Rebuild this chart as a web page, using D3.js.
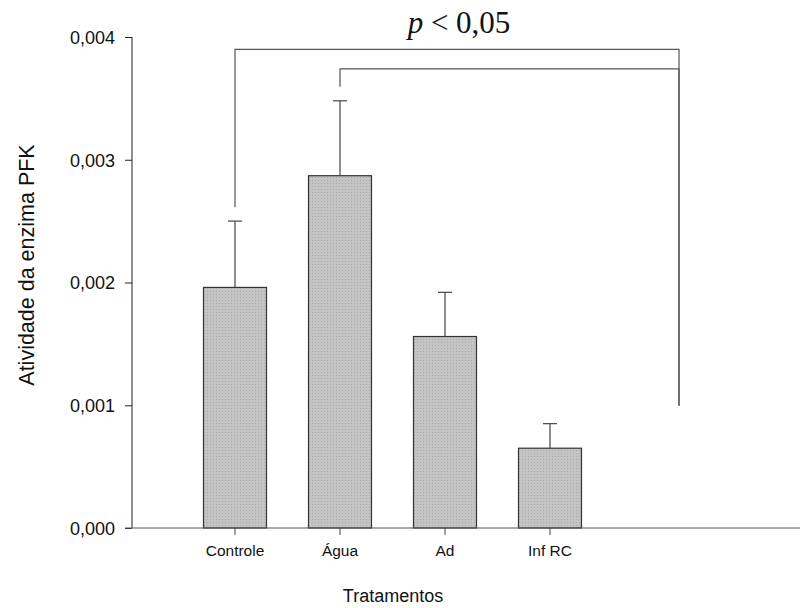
<!DOCTYPE html>
<html><head><meta charset="utf-8">
<script src="https://cdn.jsdelivr.net/npm/d3@7"></script>
<style>body{margin:0;background:#fff}</style>
</head><body>
<svg id="c" width="808" height="608"></svg>
<script>
const categories = ["Controle", "Água", "Ad", "Inf RC"];
const means = [0.00196, 0.00287, 0.00156, 0.00065];
const errors = [0.00054, 0.00061, 0.00036, 0.00020];
const yTicks = [0, 0.001, 0.002, 0.003, 0.004];
const brackets = [
  {from: "Controle", to: "Inf RC", level: 0.0039, rightX: 679},
  {from: "Água", to: "Inf RC", level: 0.00374, rightX: 679}
];
const sigLabel = "< 0,05";

const svg = d3.select("#c");
const y = d3.scaleLinear().domain([0, 0.004]).range([528, 37]);
const x = d3.scaleBand().domain(categories).range([182.5, 602.5]).paddingInner(0.4).paddingOuter(0.2);

// bars
const pat = svg.append("defs").append("pattern").attr("id","dots").attr("width",3).attr("height",3).attr("patternUnits","userSpaceOnUse");
pat.append("rect").attr("width",3).attr("height",3).attr("fill","#c4c4c4");
pat.append("rect").attr("width",1).attr("height",1).attr("fill","#aaaaaa");

svg.selectAll("rect.bar").data(categories).enter().append("rect").attr("class","bar")
  .attr("x", d => x(d)).attr("width", x.bandwidth())
  .attr("y", (d,i) => y(means[i])).attr("height", (d,i) => y(0) - y(means[i]))
  .attr("fill", "url(#dots)").attr("stroke", "#333").attr("stroke-width", 1.2);

// error bars (upward)
const eg = svg.append("g").attr("stroke","#444").attr("stroke-width",1.2);
categories.forEach((c,i) => {
  const cx = x(c) + x.bandwidth()/2;
  eg.append("line").attr("x1",cx).attr("x2",cx).attr("y1",y(means[i])).attr("y2",y(means[i]+errors[i]));
  eg.append("line").attr("x1",cx-7).attr("x2",cx+7).attr("y1",y(means[i]+errors[i])).attr("y2",y(means[i]+errors[i]));
});

const sans = "Liberation Sans, Arial, sans-serif";
// y axis
const yAxis = d3.axisLeft(y).tickValues(yTicks).tickSize(7).tickPadding(10).tickFormat(d => d3.format(".3f")(d).replace(".", ","));
const ga = svg.append("g").attr("transform","translate(132,0)").call(yAxis);
ga.select(".domain").attr("stroke","#222").attr("d","M0,528V37");
ga.selectAll(".tick line").attr("stroke","#222");
ga.selectAll("text").attr("font-family",sans).attr("font-size",18).attr("fill","#111").attr("dy","0.36em");

// x axis
const xAxis = d3.axisBottom(x).tickSize(7).tickSizeOuter(0);
const gx = svg.append("g").attr("transform","translate(0,528)").call(xAxis);
gx.select(".domain").attr("stroke","#555").attr("d","M125,0H800");
gx.selectAll(".tick line").attr("stroke","#444");
gx.selectAll("text").attr("font-family",sans).attr("font-size",15.5).attr("fill","#111").attr("dy",18);

// axis titles
svg.append("text").attr("x",393).attr("y",602).attr("text-anchor","middle")
  .attr("font-family",sans).attr("font-size",18).attr("fill","#111").text("Tratamentos");
svg.append("text").attr("transform","translate(34,265) rotate(-90)").attr("text-anchor","middle")
  .attr("font-family",sans).attr("font-size",21.5).attr("fill","#111").text("Atividade da enzima PFK");

// significance brackets
const bg = svg.append("g").attr("fill","none").attr("stroke","#555").attr("stroke-width",1.2);
brackets.forEach(b => {
  const i0 = categories.indexOf(b.from), i1 = categories.indexOf(b.to);
  const x0 = x(b.from) + x.bandwidth()/2;
  const yl = y(b.level);
  const yL = y(means[i0]+errors[i0]) - 14;
  const yR = y(means[i1]+errors[i1]) - 18;
  bg.append("path").attr("d", `M${x0},${yL}V${yl}H${b.rightX}V${yR}`);
});

const t = svg.append("text").attr("x",459).attr("y",33).attr("text-anchor","middle")
  .attr("font-family","Liberation Serif, Times New Roman, serif").attr("font-size",31).attr("fill","#111");
t.append("tspan").attr("font-style","italic").text("p");
t.append("tspan").text(" " + sigLabel);
</script>
</body></html>
